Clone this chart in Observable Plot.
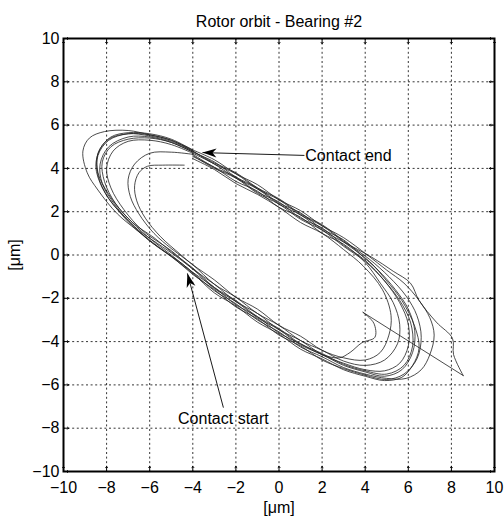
<!DOCTYPE html>
<html>
<head>
<meta charset="utf-8">
<script src="https://cdn.jsdelivr.net/npm/d3@7"></script>
<script src="https://cdn.jsdelivr.net/npm/@observablehq/plot@0.6"></script>
<style>
  html, body { margin: 0; padding: 0; background: #fff; }
</style>
</head>
<body>
<div id="chart"></div>
<script>
const title = "Rotor orbit - Bearing #2";
const axisLabel = "[μm]";
const xTicks = [-10, -8, -6, -4, -2, 0, 2, 4, 6, 8, 10];
const yTicks = [-10, -8, -6, -4, -2, 0, 2, 4, 6, 8, 10];

// Orbit loops, [x, y] in μm
const loop1 = [[-4.4,4.15],[-5.4,4.15],[-6.1,4.1],[-6.5,3.8],[-6.7,3.2],[-6.6,2.5],[-6.2,1.7],[-5.5,0.85],[-4.6,0.05],[-4,-0.45],[-3,-1.15],[-2,-1.95],[-1,-2.5],[0,-3.25],[1,-3.75],[2,-4.4],[3,-4.75],[4,-4.85],[4.7,-4.5],[5.1,-3.7],[5.2,-2.8],[4.8,-1.6],[3.9,-0.5],[3,0.25],[2,1.0],[1,1.5],[0,2.2],[-1,2.8],[-2,3.3],[-3,3.95],[-4,4.45]];
const loop2 = [[-4,4.65],[-5,4.75],[-6,4.7],[-6.7,4.2],[-7,3.5],[-6.9,2.7],[-6.5,1.9],[-5.8,1.0],[-5,0.3],[-4,-0.45],[-3,-1.35],[-2,-1.95],[-1,-2.7],[0,-3.25],[1,-3.95],[2,-4.4],[3,-4.9],[4,-5.1],[4.9,-4.85],[5.5,-4.1],[5.6,-3.2],[5.3,-2.2],[4.7,-1.3],[4,-0.35],[3,0.5],[2,1.0],[1,1.75],[0,2.2],[-1,2.95],[-2,3.4],[-3,4.05],[-4,4.55]];
const loop3 = [[-4,4.7],[-5,5.1],[-6,5.3],[-7,5.25],[-7.7,4.8],[-8,4.0],[-7.8,3.1],[-7.2,2.1],[-6.3,1.1],[-5,0.2],[-4,-0.65],[-3,-1.35],[-2,-2.15],[-1,-2.7],[0,-3.45],[1,-3.95],[2,-4.6],[3,-5.0],[4,-5.3],[4.9,-5.35],[5.6,-5.0],[6,-4.2],[6,-3.2],[5.6,-2.2],[4.9,-1.2],[4,-0.25],[3,0.45],[2,1.25],[1,1.7],[0,2.45],[-1,2.9],[-2,3.6],[-3,4.05],[-4,4.65]];
const loop4 = [[-4,4.75],[-5,5.2],[-6,5.45],[-7,5.45],[-7.9,5.0],[-8.3,4.2],[-8.2,3.3],[-7.6,2.3],[-6.7,1.3],[-5,0.1],[-4,-0.65],[-3,-1.55],[-2,-2.15],[-1,-2.9],[0,-3.45],[1,-4.15],[2,-4.6],[3,-5.1],[4,-5.4],[4.9,-5.6],[5.7,-5.3],[6.2,-4.5],[6.3,-3.5],[6,-2.5],[5.4,-1.6],[4.6,-0.7],[3.8,0.0],[3,0.7],[2,1.2],[1,1.95],[0,2.4],[-1,3.1],[-2,3.6],[-3,4.3],[-4,4.75]];
const loop5 = [[-4,4.8],[-5,5.3],[-6,5.55],[-7,5.6],[-7.9,5.3],[-8.4,4.6],[-8.4,3.7],[-7.9,2.6],[-7,1.6],[-6,0.65],[-5,-0.05],[-4,-0.9],[-3,-1.6],[-2,-2.4],[-1,-2.95],[0,-3.7],[1,-4.2],[2,-4.85],[3,-5.25],[4,-5.55],[5,-5.75],[5.8,-5.5],[6.4,-4.8],[6.6,-3.8],[6.4,-2.8],[5.9,-1.9],[5.1,-1.0],[4.2,-0.2],[3,0.65],[2,1.4],[1,1.9],[0,2.6],[-1,3.1],[-2,3.8],[-3,4.25],[-4,4.8]];
const loop6 = [[-4,4.85],[-5,5.35],[-6,5.6],[-7,5.65],[-7.8,5.45],[-8.3,4.9],[-8.5,4.1],[-8.2,3.1],[-7.5,2.1],[-6.6,1.15],[-5.6,0.35],[-4.5,-0.4],[-3,-1.65],[-2,-2.25],[-1,-3.0],[0,-3.55],[1,-4.25],[2,-4.7],[3,-5.2],[4,-5.5],[5,-5.7],[5.9,-5.7],[6.6,-5.3],[7,-4.6],[7.2,-3.7],[7,-2.9],[6.5,-2.1],[5.8,-1.3],[5,-0.7],[4.1,0.0],[3,0.8],[2,1.35],[1,2.05],[0,2.55],[-1,3.25],[-2,3.75],[-3,4.4],[-4,4.85]];
const loop7 = [[-4,4.85],[-5,5.3],[-6,5.55],[-7,5.75],[-8.1,5.7],[-8.8,5.4],[-9.1,4.8],[-8.9,3.8],[-8.4,3.0],[-7.5,1.9],[-6.4,1.0],[-5.3,0.15],[-4,-0.85],[-3,-1.75],[-2,-2.35],[-1,-3.1],[0,-3.65],[1,-4.35],[2,-4.8],[3,-5.3],[4,-5.6],[4.9,-5.8],[5.7,-5.65],[6.2,-5.1],[6.5,-4.3],[6.3,-3.3],[5.7,-2.1],[5,-1.2],[4.2,-0.3],[3,0.6],[2,1.35],[1,1.85],[0,2.55],[-1,3.05],[-2,3.75],[-3,4.2],[-4,4.8]];
const loop8a = [[-4,4.8],[-5,5.25],[-6,5.5],[-7,5.6],[-7.9,5.35],[-8.4,4.7],[-8.4,3.8],[-7.9,2.8],[-7.1,1.8],[-6.1,0.85],[-5,0.0],[-4,-0.8],[-3,-1.5],[-2,-2.3],[-1,-2.85],[0,-3.6],[1,-4.1],[2,-4.6],[2.8,-4.75],[3.3,-4.5],[3.85,-4.05],[4.45,-3.8],[4.4,-3.15],[3.9,-2.65]];
const loop8b = [[3.9,-2.65],[8.55,-5.57]];
const loop8c = [[8.55,-5.57],[8.1,-4.6],[8.05,-3.85],[7.3,-3.1],[6.5,-2.1],[6.1,-1.3],[5.3,-0.75],[4.3,-0.1],[3,0.6],[2,1.15],[1,1.85],[0,2.35],[-1,3.05],[-2,3.55],[-3,4.2],[-4,4.7]];
const loop9 = [[-4,4.75],[-5,5.2],[-6,5.4],[-7,5.35],[-7.8,5.0],[-8.2,4.3],[-8.1,3.4],[-7.6,2.4],[-6.8,1.5],[-5.8,0.8],[-5,0.15],[-4,-0.6],[-3,-1.5],[-2,-2.1],[-1,-2.85],[0,-3.4],[1,-4.1],[2,-4.55],[3,-5.05],[4,-5.35],[5,-5.5],[5.8,-5.1],[6.2,-4.2],[6.1,-3.1],[5.6,-2.1],[4.9,-1.2],[4,-0.3],[3,0.4],[2,1.15],[1,1.65],[0,2.35],[-1,2.85],[-2,3.55],[-3,4.0],[-4,4.6]];

const smoothLoops = [loop1, loop2, loop3, loop4, loop5, loop6, loop7, loop8a, loop8c, loop9];
const straightLoops = [loop8b];

// Annotations
const noteText = ["Contact end", "Contact start"];
const noteTailX = [1.18, -2.58];
const noteTailY = [4.6, -7.05];
const noteTipX = [-3.55, -4.25];
const noteTipY = [4.73, -0.85];
const noteLabelX = [1.22, -2.58];
const noteLabelY = [4.6, -7.58];

const notes = noteText.map((t, i) => ({
  t, x1: noteTailX[i], y1: noteTailY[i], x2: noteTipX[i], y2: noteTipY[i],
  lx: noteLabelX[i], ly: noteLabelY[i],
  angle: Math.atan2(noteTipX[i] - noteTailX[i], noteTipY[i] - noteTailY[i]) * 180 / Math.PI
}));

// MATLAB-like filled arrowhead: tip at the origin, pointing up before rotation
const arrowHead = {
  draw(context) {
    context.moveTo(0, 0);
    context.lineTo(4.5, 14);
    context.lineTo(0, 10);
    context.lineTo(-4.5, 14);
    context.closePath();
  }
};

const lineStyle = {x: d => d[0], y: d => d[1], stroke: "#1e1e1e", strokeWidth: 0.8};
const fontSize = 16;

const chart = Plot.plot({
  width: 504,
  height: 521,
  marginLeft: 63,
  marginRight: 10,
  marginTop: 38,
  marginBottom: 50,
  style: {fontFamily: "'Liberation Sans', Arial, Helvetica, sans-serif", fontSize: "16px", background: "#fff", color: "#000"},
  x: {domain: [-10, 10]},
  y: {domain: [-10, 10]},
  marks: [
    Plot.gridX(xTicks, {stroke: "#000", strokeOpacity: 1, strokeWidth: 0.8, strokeDasharray: "2,2.6"}),
    Plot.gridY(yTicks, {stroke: "#000", strokeOpacity: 1, strokeWidth: 0.8, strokeDasharray: "2,2.6"}),
    ...smoothLoops.map(L => Plot.line(L, {...lineStyle, curve: "catmull-rom"})),
    ...straightLoops.map(L => Plot.line(L, {...lineStyle, curve: "linear"})),
    Plot.link(notes, {x1: "x1", y1: "y1", x2: "x2", y2: "y2", stroke: "#000", strokeWidth: 0.9}),
    Plot.dot(notes, {x: "x2", y: "y2", rotate: "angle", symbol: arrowHead, r: 1, fill: "#000", stroke: "none"}),
    Plot.text(notes.slice(0, 1), {x: "lx", y: "ly", text: "t", textAnchor: "start", lineAnchor: "middle", fill: "#000", fontSize}),
    Plot.text(notes.slice(1), {x: "lx", y: "ly", text: "t", textAnchor: "middle", lineAnchor: "middle", fill: "#000", fontSize}),
    // inward ticks
    Plot.vector(xTicks, {x: d => d, y: -10, length: 5, rotate: 0, anchor: "start", stroke: "#000", strokeWidth: 1}),
    Plot.vector(xTicks, {x: d => d, y: 10, length: 5, rotate: 180, anchor: "start", stroke: "#000", strokeWidth: 1}),
    Plot.vector(yTicks, {y: d => d, x: -10, length: 5, rotate: 90, anchor: "start", stroke: "#000", strokeWidth: 1}),
    Plot.vector(yTicks, {y: d => d, x: 10, length: 5, rotate: 270, anchor: "start", stroke: "#000", strokeWidth: 1}),
    Plot.frame({stroke: "#000", strokeWidth: 2}),
    Plot.axisX(xTicks, {tickSize: 0, tickPadding: 10, label: null, fontSize}),
    Plot.axisY(yTicks, {tickSize: 0, tickPadding: 4, label: null, fontSize}),
    Plot.text([axisLabel], {frameAnchor: "bottom", dy: 36, lineAnchor: "middle", textAnchor: "middle", fontSize, fill: "#000"}),
    Plot.text([axisLabel], {frameAnchor: "left", dx: -49, rotate: -90, lineAnchor: "middle", textAnchor: "middle", fontSize, fill: "#000"}),
    Plot.text([title], {frameAnchor: "top", dy: -17, lineAnchor: "middle", textAnchor: "middle", fontSize, fill: "#000"})
  ]
});
document.getElementById("chart").appendChild(chart);
</script>
</body>
</html>
